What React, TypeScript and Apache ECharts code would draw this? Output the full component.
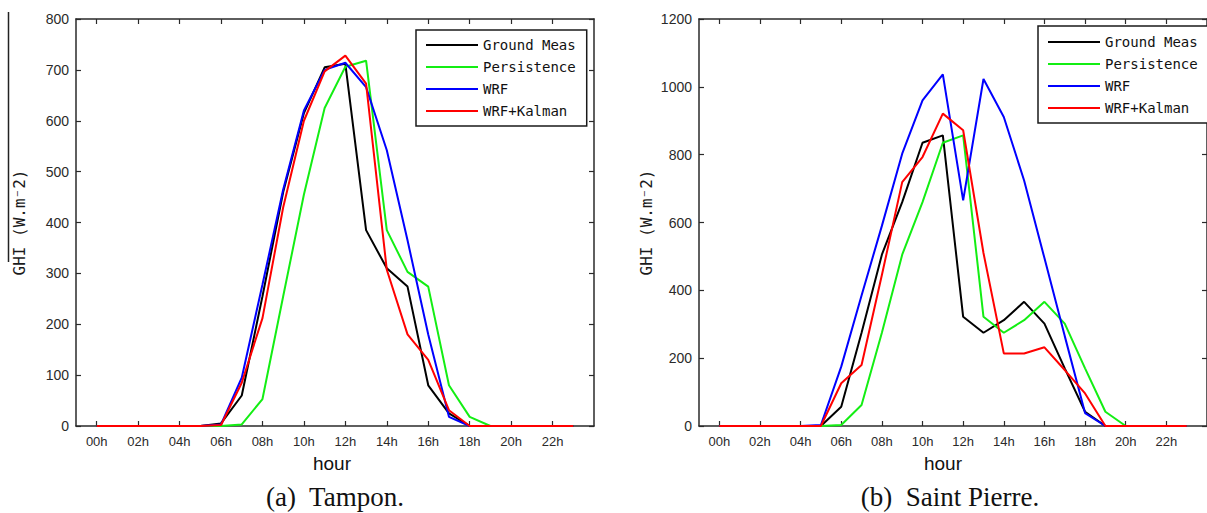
import React, { useEffect, useRef } from "react";
import * as echarts from "echarts";

const hours = [0, 1, 2, 3, 4, 5, 6, 7, 8, 9, 10, 11, 12, 13, 14, 15, 16, 17, 18, 19, 20, 21, 22, 23];
const tickHours = [0, 2, 4, 6, 8, 10, 12, 14, 16, 18, 20, 22];
const tickLabels = ["00h", "02h", "04h", "06h", "08h", "10h", "12h", "14h", "16h", "18h", "20h", "22h"];
const seriesNames = ["Ground Meas", "Persistence", "WRF", "WRF+Kalman"];
const seriesColors = ["#000000", "#13ee13", "#0000ff", "#ff0000"];

// (a) Tampon
const tamponGround = [0, 0, 0, 0, 0, 0, 5, 60, 255, 460, 615, 705, 712, 385, 310, 274, 80, 25, 0, 0, 0, 0, 0, 0];
const tamponPersistence = [0, 0, 0, 0, 0, 0, 0, 3, 53, 255, 455, 625, 706, 718, 385, 303, 274, 80, 18, 0, 0, 0, 0, 0];
const tamponWRF = [0, 0, 0, 0, 0, 0, 3, 95, 278, 465, 620, 700, 714, 666, 542, 365, 180, 18, 0, 0, 0, 0, 0, 0];
const tamponKalman = [0, 0, 0, 0, 0, 0, 2, 85, 212, 430, 600, 697, 728, 673, 307, 180, 130, 31, 0, 0, 0, 0, 0, 0];

// (b) Saint Pierre
const stPierreGround = [0, 0, 0, 0, 0, 0, 57, 275, 505, 660, 835, 857, 322, 275, 312, 366, 302, 170, 42, 0, 0, 0, 0, 0];
const stPierrePersistence = [0, 0, 0, 0, 0, 0, 3, 62, 275, 505, 660, 835, 857, 322, 275, 312, 366, 302, 170, 42, 0, 0, 0, 0];
const stPierreWRF = [0, 0, 0, 0, 0, 3, 175, 385, 590, 803, 960, 1037, 665, 1023, 911, 724, 495, 265, 38, 0, 0, 0, 0, 0];
const stPierreKalman = [0, 0, 0, 0, 0, 0, 126, 180, 445, 719, 793, 921, 872, 510, 214, 214, 232, 165, 96, 0, 0, 0, 0, 0];

const yTicksLeft = { min: 0, max: 800, interval: 100 };
const yTicksRight = { min: 0, max: 1200, interval: 200 };

const axisColor = "#2a2a2a";
const labelFont = "Liberation Sans";
const monoFont = "DejaVu Sans Mono";

function xAxisDef(gridIndex: number, top: boolean, namePad: number[]) {
  return {
    type: "value",
    gridIndex,
    position: top ? "top" : "bottom",
    min: -1,
    max: 24,
    name: top ? "" : "hour",
    nameLocation: "middle",
    nameGap: 28,
    nameTextStyle: { fontFamily: labelFont, fontSize: 19, color: "#111", padding: namePad },
    axisLine: { show: true, onZero: false, lineStyle: { color: axisColor, width: 1.5 } },
    axisTick: { show: true, inside: true, length: 5, customValues: tickHours, lineStyle: { color: axisColor, width: 1.2 } },
    axisLabel: {
      show: !top,
      customValues: tickHours,
      margin: 9,
      fontFamily: labelFont,
      fontSize: 13,
      color: "#2a2a2a",
      formatter: (v: number) => {
        const i = tickHours.indexOf(Math.round(v));
        return i >= 0 ? tickLabels[i] : "";
      },
    },
    splitLine: { show: false },
  };
}

function yAxisDef(gridIndex: number, right: boolean, ticks: { min: number; max: number; interval: number }, gap: number) {
  return {
    type: "value",
    gridIndex,
    position: right ? "right" : "left",
    min: ticks.min,
    max: ticks.max,
    interval: ticks.interval,
    name: right ? "" : "GHI (W.m\u207B2)",
    nameLocation: "middle",
    nameRotate: 90,
    nameGap: gap,
    nameTextStyle: { fontFamily: monoFont, fontSize: 16, color: "#1a1a1a" },
    axisLine: { show: true, onZero: false, lineStyle: { color: axisColor, width: 1.5 } },
    axisTick: { show: true, inside: true, length: 5, lineStyle: { color: axisColor, width: 1.2 } },
    axisLabel: {
      show: !right,
      margin: 7,
      fontFamily: labelFont,
      fontSize: 14,
      color: "#2a2a2a",
      formatter: (v: number) => String(v),
    },
    splitLine: { show: false },
  };
}

function buildSeries(values: number[][], xIdx: number, yIdx: number) {
  return values.map((vals, k) => ({
    name: seriesNames[k],
    type: "line",
    xAxisIndex: xIdx,
    yAxisIndex: yIdx,
    data: hours.map((h, i) => [h, vals[i]]),
    showSymbol: false,
    symbol: "none",
    lineStyle: { color: seriesColors[k], width: 2 },
    itemStyle: { color: seriesColors[k] },
    emphasis: { disabled: true },
    z: 2 + k,
  }));
}

function legendDef(left: number, top: number, padding: number[]) {
  return {
    data: seriesNames,
    orient: "vertical",
    left,
    top,
    icon: "rect",
    itemWidth: 52,
    itemHeight: 2,
    itemGap: 8,
    padding,
    borderColor: "#1a1a1a",
    borderWidth: 1.5,
    backgroundColor: "#ffffff",
    selectedMode: false,
    textStyle: { fontFamily: monoFont, fontSize: 14, color: "#111", lineHeight: 14 },
  };
}

export default function App() {
  const ref = useRef<HTMLDivElement>(null);

  useEffect(() => {
    if (!ref.current) return;
    const chart = echarts.init(ref.current, undefined, { renderer: "svg" });
    chart.setOption({
      animation: false,
      backgroundColor: "#ffffff",
      grid: [
        { left: 76, top: 19, width: 518, height: 407 },
        { left: 699, top: 19, width: 517, height: 407 },
      ],
      xAxis: [
        xAxisDef(0, false, [0, 6, 0, 0]),
        xAxisDef(0, true, [0, 0, 0, 0]),
        xAxisDef(1, false, [0, 20, 0, 0]),
        xAxisDef(1, true, [0, 0, 0, 0]),
      ],
      yAxis: [
        yAxisDef(0, false, yTicksLeft, 49),
        yAxisDef(0, true, yTicksLeft, 0),
        yAxisDef(1, false, yTicksRight, 45),
        yAxisDef(1, true, yTicksRight, 0),
      ],
      legend: [legendDef(416, 30, [8, 11, 8, 10]), legendDef(1038, 26, [9, 11, 8, 10])],
      series: [
        ...buildSeries([tamponGround, tamponPersistence, tamponWRF, tamponKalman], 0, 0),
        ...buildSeries([stPierreGround, stPierrePersistence, stPierreWRF, stPierreKalman], 2, 2),
      ],
      graphic: [
        {
          type: "line",
          shape: { x1: 8.5, y1: 12, x2: 8.5, y2: 262 },
          style: { stroke: "#222", lineWidth: 1.5 },
        },
        {
          type: "text",
          x: 335,
          y: 497,
          style: {
            text: "(a)  Tampon.",
            fontFamily: "Liberation Serif",
            fontSize: 27,
            fill: "#111",
            textAlign: "center",
            textVerticalAlign: "middle",
          },
        },
        {
          type: "text",
          x: 950,
          y: 497,
          style: {
            text: "(b)  Saint Pierre.",
            fontFamily: "Liberation Serif",
            fontSize: 27,
            fill: "#111",
            textAlign: "center",
            textVerticalAlign: "middle",
          },
        },
      ],
    });
    return () => chart.dispose();
  }, []);

  return (
    <div
      ref={ref}
      style={{ position: "absolute", left: 0, top: 0, width: 1207, height: 513, background: "#fff" }}
    />
  );
}
